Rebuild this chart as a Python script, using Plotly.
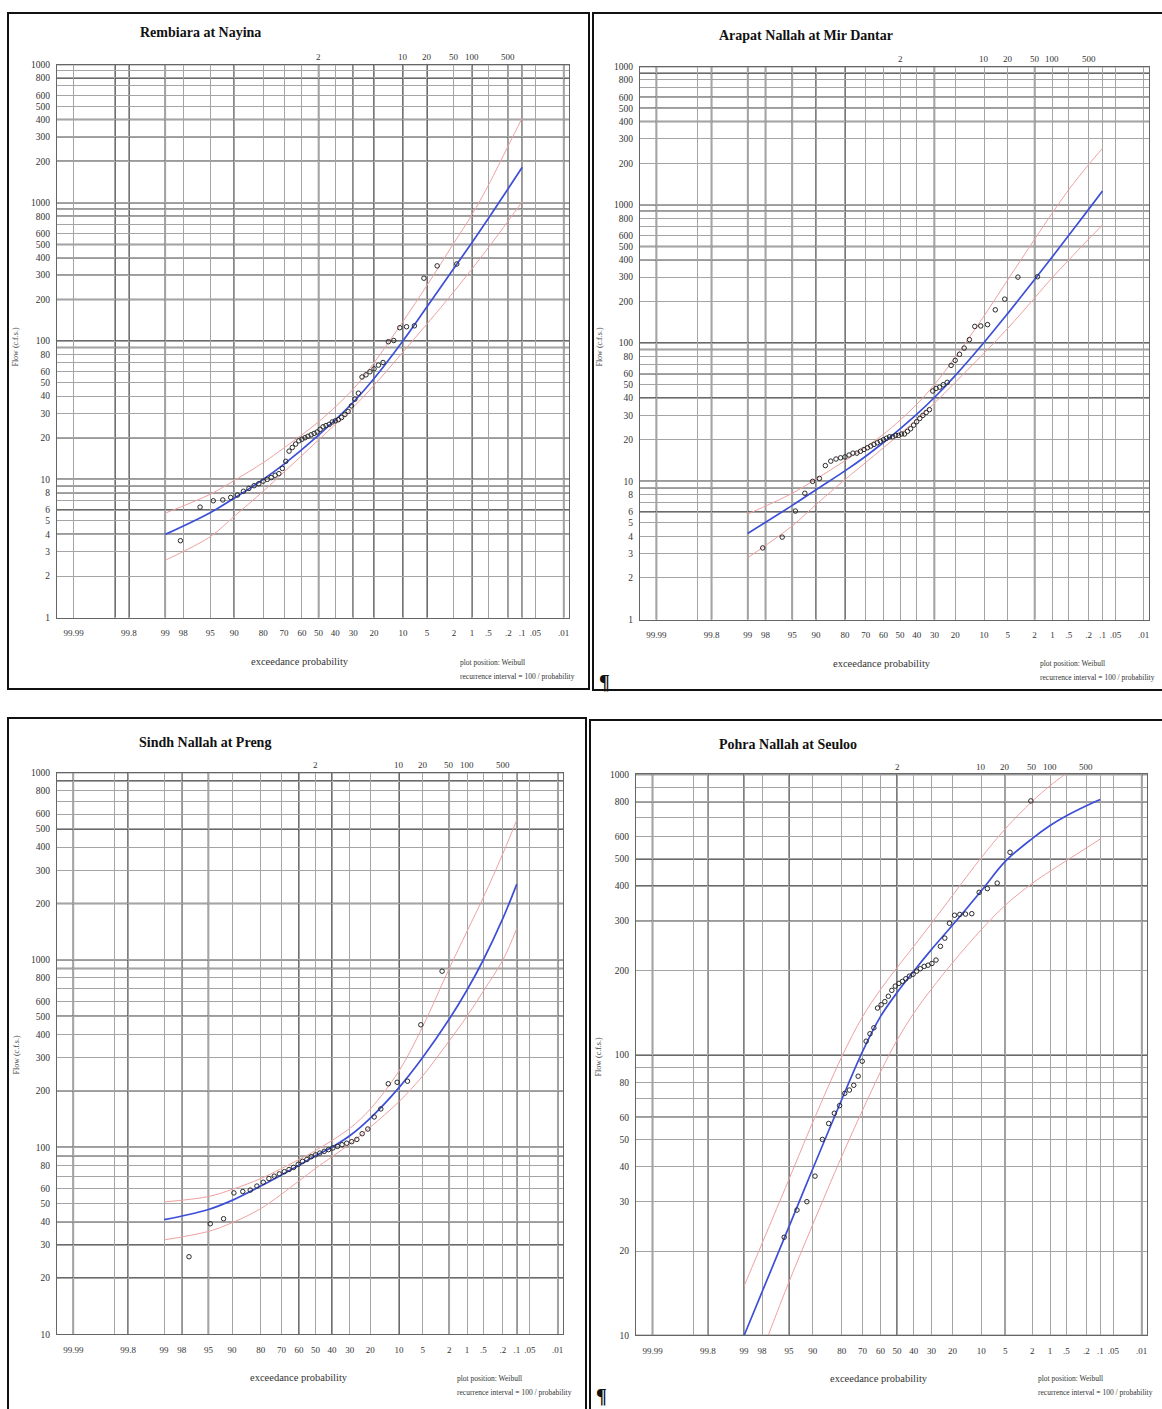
import plotly.graph_objects as go
from statistics import NormalDist

# ---------------- data ----------------
PROB_TICKS = [99.99, 99.9, 99.8, 99, 98, 95, 90, 80, 70, 60, 50, 40, 30, 20, 10, 5, 2, 1, 0.5, 0.2, 0.1, 0.05, 0.01]
PROB_LABELS = ["99.99", "", "99.8", "99", "98", "95", "90", "80", "70", "60", "50", "40", "30", "20", "10",
               "5", "2", "1", ".5", ".2", ".1", ".05", ".01"]
RETURN_PROBS = [50, 10, 5, 2, 1, 0.2]
RETURN_LABELS = ["2", "10", "20", "50", "100", "500"]

FLOW_TICKS = [1, 2, 3, 4, 5, 6, 7, 8, 9, 10, 20, 30, 40, 50, 60, 70, 80, 90, 100, 200, 300, 400, 500, 600,
              700, 800, 900, 1000, 2000, 3000, 4000, 5000, 6000, 7000, 8000, 9000, 10000]
FLOW_LABELS = ["1", "2", "3", "4", "5", "6", "", "8", "", "10", "20", "30", "40", "50", "60", "", "80", "",
               "100", "200", "300", "400", "500", "600", "", "800", "", "1000", "200", "300", "400", "500",
               "600", "", "800", "", "1000"]

TITLES = ["Rembiara at Nayina", "Arapat Nallah at Mir Dantar", "Sindh Nallah at Preng", "Pohra Nallah at Seuloo"]
Y_TITLE = "Flow (c.f.s.)"
X_TITLE = "exceedance probability"
NOTE_1 = "plot position: Weibull"
NOTE_2 = "recurrence interval = 100 / probability"

# Rembiara at Nayina
REM_FIT_P = [99, 95, 90, 80, 70, 50, 30, 20, 10, 5, 2, 1, 0.5, 0.2, 0.1]
REM_FIT_Q = [4.0, 5.74, 7.3, 10.0, 12.9, 20.9, 36.1, 53.6, 100.5, 177, 336, 515, 771, 1271, 1806]
REM_UP_P = [99, 95, 90, 80, 70, 50, 30, 20, 10, 5, 2, 1, 0.5, 0.2, 0.1]
REM_UP_Q = [5.7, 7.8, 9.8, 13.2, 16.9, 26.1, 44.9, 69.7, 139, 253, 513, 820, 1337, 2588, 4111]
REM_LO_P = [99, 95, 90, 80, 70, 50, 30, 20, 10, 5, 2, 1, 0.5, 0.2, 0.1]
REM_LO_Q = [2.6, 3.85, 5.4, 8.2, 11.3, 19.3, 33.2, 47.9, 83.6, 133, 228, 332, 474, 740, 1021]
REM_PT_P = [1.8, 3.6, 5.5, 7.3, 9.1, 10.9, 12.7, 14.5, 16.4, 18.2, 20.0, 21.8, 23.6, 25.5, 27.3, 29.1, 30.9,
            32.7, 34.5, 36.4, 38.2, 40.0, 41.8, 43.6, 45.5, 47.3, 49.1, 50.9, 52.7, 54.5, 56.4, 58.2, 60.0,
            61.8, 63.6, 65.5, 67.3, 69.1, 70.9, 72.7, 74.5, 76.4, 78.2, 80.0, 81.8, 83.6, 85.5, 87.3, 89.1,
            90.9, 92.7, 94.5, 96.4, 98.2]
REM_PT_Q = [361, 350, 285, 129, 127, 125, 101, 99, 70, 67, 63, 60, 57, 55, 42, 38, 34, 31, 29.5, 28, 27, 26.5,
            26, 25, 24.5, 24, 23, 22, 21.5, 21, 20.5, 20, 19.5, 19, 18, 17, 16, 13.5, 12, 11, 10.7, 10.3, 10,
            9.7, 9.3, 9.0, 8.6, 8.2, 7.7, 7.4, 7.1, 7.0, 6.3, 3.6]

# Arapat Nallah at Mir Dantar
ARA_FIT_P = [99, 95, 90, 80, 70, 60, 50, 40, 30, 20, 10, 5, 2, 1, 0.5, 0.2, 0.1]
ARA_FIT_Q = [4.2, 6.7, 8.7, 11.9, 15.2, 19.1, 24, 30.5, 40.4, 58.2, 101, 164, 288, 422, 603, 927, 1260]
ARA_UP_P = [99, 95, 90, 80, 70, 60, 50, 40, 30, 20, 10, 5, 2, 1, 0.5, 0.2, 0.1]
ARA_UP_Q = [5.8, 8.2, 10.4, 14.1, 17.7, 21.9, 27.7, 36, 50.1, 78.9, 157, 287, 564, 875, 1288, 1954, 2560]
ARA_LO_P = [99, 95, 90, 80, 70, 60, 50, 40, 30, 20, 10, 5, 2, 1, 0.5, 0.2, 0.1]
ARA_LO_Q = [2.8, 4.77, 6.8, 10.3, 13.7, 17.5, 22, 28, 36.8, 52, 84.5, 128, 212, 299, 399, 565, 714]
ARA_PT_P = [1.8, 3.6, 5.5, 7.3, 9.1, 10.9, 12.7, 14.5, 16.4, 18.2, 20.0, 21.8, 23.6, 25.5, 27.3, 29.1, 30.9,
            32.7, 34.5, 36.4, 38.2, 40.0, 41.8, 43.6, 45.5, 47.3, 49.1, 50.9, 52.7, 54.5, 56.4, 58.2, 60.0,
            61.8, 63.6, 65.5, 67.3, 69.1, 70.9, 72.7, 74.5, 76.4, 78.2, 80.0, 81.8, 83.6, 85.5, 87.3, 89.1,
            90.9, 92.7, 94.5, 96.4, 98.2]
ARA_PT_Q = [302, 300, 208, 174, 136, 133, 132, 106, 92, 83, 75, 69, 52, 50, 48, 47, 45, 33, 31.5, 30, 28.5, 27,
            25.5, 24, 23, 22, 22, 21.5, 21.5, 21, 21, 20.5, 20, 19.5, 19, 18.5, 18, 17.5, 17, 16.5, 16, 16,
            15.5, 15, 14.8, 14.5, 14, 13, 10.5, 10, 8.2, 6.1, 3.95, 3.3]

# Sindh Nallah at Preng
SIN_FIT_P = [99, 95, 90, 80, 70, 60, 50, 40, 30, 20, 10, 5, 2, 1, 0.5, 0.2, 0.1]
SIN_FIT_Q = [41, 46.5, 52, 62, 71, 80, 90, 100, 115, 143, 208, 301, 483, 690, 998, 1668, 2537]
SIN_UP_P = [99, 95, 90, 80, 60, 50, 30, 20, 10, 5, 2, 1, 0.5, 0.2, 0.1]
SIN_UP_Q = [51, 54.5, 59.5, 68, 86, 96, 126, 160, 255, 440, 900, 1420, 2150, 3700, 5580]
SIN_LO_P = [99, 95, 90, 80, 60, 50, 30, 20, 10, 5, 2, 1, 0.5, 0.2, 0.1]
SIN_LO_Q = [32, 35.5, 39.5, 47, 66, 77, 104, 128, 175, 240, 370, 500, 680, 1000, 1470]
SIN_PT_P = [2.6, 5.3, 7.9, 10.5, 13.2, 15.8, 18.4, 21.1, 23.7, 26.3, 28.9, 31.6, 34.2, 36.8, 39.5, 42.1, 44.7,
            47.4, 50.0, 52.6, 55.3, 57.9, 60.5, 63.2, 65.8, 68.4, 71.1, 73.7, 76.3, 78.9, 81.6, 84.2, 86.8,
            89.5, 92.1, 94.7, 97.4]
SIN_PT_Q = [870, 450, 225, 222, 218, 160, 145, 125, 118, 110, 107, 105, 103, 101, 99, 97, 95, 93, 91, 89, 86,
            84, 81, 78, 76, 74, 72, 70, 68, 65, 62, 59, 58, 57, 41.5, 39, 26]

# Pohra Nallah at Seuloo
POH_FIT_P = [99, 95, 90, 80, 70, 60, 50, 40, 30, 20, 10, 5, 2, 1, 0.5, 0.2, 0.1]
POH_FIT_Q = [10, 24.4, 39.3, 69.4, 103, 137, 167, 199, 238, 290, 385, 490, 591, 658, 713, 774, 815]
POH_UP_P = [99, 95, 90, 80, 70, 60, 50, 40, 30, 20, 10, 5, 2, 1, 0.5]
POH_UP_Q = [15, 36, 57.6, 98.5, 137, 171, 205, 244, 295, 370, 506, 640, 802, 912, 1010]
POH_LO_P = [97.5, 95, 90, 80, 70, 60, 50, 40, 30, 20, 10, 5, 2, 1, 0.5, 0.2, 0.1]
POH_LO_Q = [10, 15.5, 24.9, 43.5, 63.6, 86.9, 113, 141, 172, 213, 280, 342, 409, 452, 493, 547, 589]
POH_PT_P = [2.1, 4.3, 6.4, 8.5, 10.6, 12.8, 14.9, 17.0, 19.1, 21.3, 23.4, 25.5, 27.7, 29.8, 31.9, 34.0, 36.2,
            38.3, 40.4, 42.6, 44.7, 46.8, 48.9, 51.1, 53.2, 55.3, 57.4, 59.6, 61.7, 63.8, 66.0, 68.1, 70.2,
            72.3, 74.5, 76.6, 78.7, 80.9, 83.0, 85.1, 87.2, 89.4, 91.5, 93.6, 95.7]
POH_PT_Q = [805, 528, 410, 392, 380, 319, 318, 317, 315, 295, 261, 244, 218, 212, 209, 207, 203, 199, 194, 191,
            187, 183, 180, 176, 170, 162, 155, 151, 147, 125, 119, 112, 95, 84, 78, 75, 73, 66, 62, 57, 50, 37,
            30, 28, 22.4]

DATA = [
    dict(fit=(REM_FIT_P, REM_FIT_Q), up=(REM_UP_P, REM_UP_Q), lo=(REM_LO_P, REM_LO_Q), pts=(REM_PT_P, REM_PT_Q)),
    dict(fit=(ARA_FIT_P, ARA_FIT_Q), up=(ARA_UP_P, ARA_UP_Q), lo=(ARA_LO_P, ARA_LO_Q), pts=(ARA_PT_P, ARA_PT_Q)),
    dict(fit=(SIN_FIT_P, SIN_FIT_Q), up=(SIN_UP_P, SIN_UP_Q), lo=(SIN_LO_P, SIN_LO_Q), pts=(SIN_PT_P, SIN_PT_Q)),
    dict(fit=(POH_FIT_P, POH_FIT_Q), up=(POH_UP_P, POH_UP_Q), lo=(POH_LO_P, POH_LO_Q), pts=(POH_PT_P, POH_PT_Q)),
]

# ---------------- layout / style ----------------
W, H = 1162, 1409
ZMIN, ZMAX = -3.97, 3.80
SERIF = "Liberation Serif, Times New Roman, serif"
LIGHT = "#a4a4a4"
HEAVY = "#383838"
BLUE = "#3d4fd8"
PINK = "#f0a0a0"

PANELS = [
    dict(px_x=(57, 569), px_y=(60, 617), yrange=(0, 4), title_xy=(200, 28), ytitle_xy=(16, 345),
         xlabel_xy=(300, 661), notes_xy=(458, 662), frame=(8, 8, 589, 689),
         heavy_x=[99.9, 99.8, 99, 90, 50, 30, 20, 10, 5, 1, 0.2, 0.1, 0.01],
         heavy_y=[10000, 8000, 4000, 3000, 2000, 1000, 900, 800, 500, 400, 300, 200, 100, 90, 20, 10, 9, 8, 6, 4]),
    dict(px_x=(640, 1149), px_y=(62, 619), yrange=(0, 4), title_xy=(806, 31), ytitle_xy=(600, 345),
         xlabel_xy=(882, 663), notes_xy=(1038, 663), frame=(593, 8, 1166, 690),
         heavy_x=[99.99, 99.8, 99, 98, 95, 90, 80, 30, 2],
         heavy_y=[10000, 9000, 6000, 5000, 4000, 1000, 900, 500, 400, 100, 90, 60, 40, 10, 9, 6]),
    dict(px_x=(57, 563), px_y=(773, 1339), yrange=(1, 4), title_xy=(205, 743), ytitle_xy=(16, 1058),
         xlabel_xy=(299, 1382), notes_xy=(455, 1383), frame=(8, 718, 586, 1416),
         heavy_x=[99.99, 99.8, 98, 95, 60, 40, 10, 2, 0.1, 0.01],
         heavy_y=[10000, 9000, 5000, 2000, 1000, 900, 500, 200, 100, 90, 40, 30, 20]),
    dict(px_x=(636, 1147), px_y=(775, 1340), yrange=(1, 3), title_xy=(788, 745), ytitle_xy=(598, 1060),
         xlabel_xy=(879, 1383), notes_xy=(1036, 1383), frame=(590, 720, 1166, 1416),
         heavy_x=[99.99, 99.8, 99, 95, 50, 5, 0.01],
         heavy_y=[1000, 800, 500, 400, 300, 100, 60, 10]),
]

ND = NormalDist()


def zval(p):
    """Normal-probability-paper position of an exceedance probability (percent)."""
    return ND.inv_cdf(1.0 - p / 100.0)


def ann(x, y, text, size, xanchor="center", xref="paper", angle=0, color="#333"):
    return dict(xref=xref, yref="paper", x=x, y=y, text=text, showarrow=False, xanchor=xanchor,
                yanchor="middle", textangle=angle, font=dict(family=SERIF, size=size, color=color))


fig = go.Figure()
layout = {}
shapes = []
annotations = []

for i, (pan, dat) in enumerate(zip(PANELS, DATA), start=1):
    sfx = "" if i == 1 else str(i)
    xa, ya = "x" + sfx, "y" + sfx
    lo, hi = pan["yrange"]
    sel = [k for k, v in enumerate(FLOW_TICKS) if 10 ** lo <= v <= 10 ** hi]
    x0, x1 = pan["px_x"]
    y0, y1 = pan["px_y"]

    layout["xaxis" + sfx] = dict(
        domain=[x0 / W, x1 / W], range=[ZMIN, ZMAX], anchor=ya, tickmode="array",
        tickvals=[zval(p) for p in PROB_TICKS], ticktext=PROB_LABELS, ticks="", ticklabelstandoff=7,
        showgrid=True, gridcolor=LIGHT, gridwidth=1, zeroline=False, showline=True, linecolor="#666",
        linewidth=1, mirror=True, tickfont=dict(family=SERIF, size=9, color="#333"), fixedrange=True)
    layout["yaxis" + sfx] = dict(
        domain=[1 - y1 / H, 1 - y0 / H], type="log", range=[lo, hi], anchor=xa, tickmode="array",
        tickvals=[FLOW_TICKS[k] for k in sel], ticktext=[FLOW_LABELS[k] for k in sel], ticks="",
        ticklabelstandoff=4, showgrid=True, gridcolor=LIGHT, gridwidth=1, zeroline=False, showline=True,
        linecolor="#666", linewidth=1, mirror=True, tickfont=dict(family=SERIF, size=9.5, color="#333"),
        fixedrange=True)

    for p in pan["heavy_x"]:
        shapes.append(dict(type="line", xref=xa, yref=ya + " domain", x0=zval(p), x1=zval(p), y0=0, y1=1,
                           line=dict(color=HEAVY, width=1.5), layer="below"))
    for v in pan["heavy_y"]:
        shapes.append(dict(type="line", xref=xa + " domain", yref=ya, x0=0, x1=1, y0=v, y1=v,
                           line=dict(color=HEAVY, width=1.5), layer="below"))

    fx, fy0, fx1, fy1 = pan["frame"]
    shapes.append(dict(type="rect", xref="paper", yref="paper", x0=fx / W, x1=fx1 / W,
                       y0=1 - fy1 / H, y1=1 - fy0 / H, line=dict(color="#111", width=2), layer="above"))

    # confidence limits
    for key in ("up", "lo"):
        pp, qq = dat[key]
        fig.add_trace(go.Scatter(x=[zval(p) for p in pp], y=qq, mode="lines", xaxis=xa, yaxis=ya,
                                 line=dict(color=PINK, width=1, shape="spline", smoothing=1.0),
                                 hoverinfo="skip", showlegend=False))
    # fitted curve
    pp, qq = dat["fit"]
    fig.add_trace(go.Scatter(x=[zval(p) for p in pp], y=qq, mode="lines", xaxis=xa, yaxis=ya,
                             line=dict(color=BLUE, width=1.7, shape="spline", smoothing=1.0),
                             hoverinfo="skip", showlegend=False))
    # observed points
    pp, qq = dat["pts"]
    fig.add_trace(go.Scatter(x=[zval(p) for p in pp], y=qq, mode="markers", xaxis=xa, yaxis=ya,
                             marker=dict(symbol="circle-open", size=4.5, color="#2a2a2a",
                                         line=dict(width=1, color="#2a2a2a")),
                             hoverinfo="skip", showlegend=False, cliponaxis=True))

    # text
    tx, ty = pan["title_xy"]
    annotations.append(ann(tx / W, 1 - ty / H, "<b>" + TITLES[i - 1] + "</b>", 14, color="#111"))
    for p, lbl in zip(RETURN_PROBS, RETURN_LABELS):
        annotations.append(ann(zval(p), 1 - (y0 - 8) / H, lbl, 9, xref=xa))
    ax_, ay_ = pan["ytitle_xy"]
    annotations.append(ann(ax_ / W, 1 - ay_ / H, Y_TITLE, 8, angle=-90, color="#444"))
    lx, ly = pan["xlabel_xy"]
    annotations.append(ann(lx / W, 1 - ly / H, X_TITLE, 10.5))
    nx, ny = pan["notes_xy"]
    annotations.append(ann(nx / W, 1 - ny / H, NOTE_1, 7.5, xanchor="left"))
    annotations.append(ann(nx / W, 1 - (ny + 14) / H, NOTE_2, 7.5, xanchor="left"))

for (px, py) in [(604, 682), (601, 1401)]:
    annotations.append(ann(px / W, 1 - py / H, "<b>¶</b>", 20, color="#111"))

fig.update_layout(**layout)
fig.update_layout(width=W, height=H, autosize=False, margin=dict(l=0, r=0, t=0, b=0),
                  paper_bgcolor="white", plot_bgcolor="white", showlegend=False,
                  shapes=shapes, annotations=annotations)

fig.write_html("out.html", config={"displayModeBar": False},
               post_script="document.body.style.margin='0';")
